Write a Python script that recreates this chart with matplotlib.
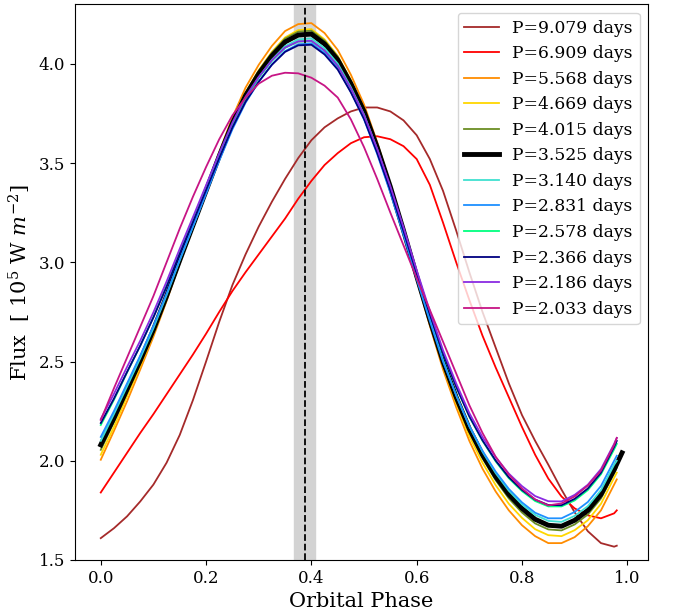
import numpy as np
import matplotlib
matplotlib.use("Agg")
import matplotlib.pyplot as plt

plt.rcParams['font.family'] = 'DejaVu Serif'
plt.rcParams['mathtext.fontset'] = 'dejavuserif'

# orbital phase grid the curves were read at (0 .. 0.975 step 0.025, then 0.98)
phase = [0.000, 0.025, 0.050, 0.075, 0.100, 0.125, 0.150, 0.175, 0.200, 0.225,
         0.250, 0.275, 0.300, 0.325, 0.350, 0.375, 0.400, 0.425, 0.450, 0.475,
         0.500, 0.525, 0.550, 0.575, 0.600, 0.625, 0.650, 0.675, 0.700, 0.725,
         0.750, 0.775, 0.800, 0.825, 0.850, 0.875, 0.900, 0.925, 0.950, 0.975,
         0.980]
# the thick curve runs a bit further
phase_black = phase[:-1] + [0.990]

periods = ["9.079", "6.909", "5.568", "4.669", "4.015", "3.525",
           "3.140", "2.831", "2.578", "2.366", "2.186", "2.033"]
colors = ["brown", "red", "darkorange", "gold", "olivedrab", "black",
          "turquoise", "dodgerblue", "springgreen", "navy", "blueviolet",
          "mediumvioletred"]

flux_9079 = [1.610, 1.660, 1.720, 1.795, 1.880, 1.990, 2.130, 2.305, 2.500, 2.700,
             2.885, 3.040, 3.180, 3.305, 3.420, 3.525, 3.615, 3.680, 3.725, 3.760,
             3.780, 3.780, 3.760, 3.715, 3.640, 3.520, 3.360, 3.160, 2.950, 2.750,
             2.570, 2.390, 2.230, 2.100, 1.980, 1.855, 1.740, 1.645, 1.585, 1.567,
             1.572]
flux_6909 = [1.840, 1.940, 2.040, 2.140, 2.235, 2.335, 2.435, 2.535, 2.640, 2.750,
             2.855, 2.950, 3.040, 3.130, 3.220, 3.320, 3.410, 3.490, 3.550, 3.600,
             3.630, 3.635, 3.620, 3.585, 3.520, 3.390, 3.200, 3.000, 2.810, 2.630,
             2.470, 2.320, 2.170, 2.030, 1.910, 1.820, 1.760, 1.725, 1.710, 1.735,
             1.750]
flux_5568 = [2.005, 2.150, 2.300, 2.460, 2.625, 2.805, 2.995, 3.180, 3.370, 3.555,
             3.730, 3.880, 3.995, 4.090, 4.165, 4.200, 4.205, 4.155, 4.070, 3.945,
             3.795, 3.605, 3.390, 3.160, 2.915, 2.680, 2.460, 2.270, 2.100, 1.960,
             1.845, 1.750, 1.675, 1.620, 1.585, 1.585, 1.615, 1.670, 1.750, 1.880,
             1.906]
flux_4669 = [2.030, 2.170, 2.325, 2.478, 2.638, 2.813, 3.000, 3.180, 3.360, 3.540,
             3.710, 3.855, 3.968, 4.060, 4.133, 4.170, 4.175, 4.123, 4.040, 3.917,
             3.773, 3.587, 3.380, 3.155, 2.917, 2.690, 2.475, 2.290, 2.124, 1.990,
             1.877, 1.783, 1.712, 1.655, 1.625, 1.620, 1.650, 1.700, 1.783, 1.915,
             1.940]
flux_4015 = [2.055, 2.195, 2.345, 2.495, 2.652, 2.826, 3.010, 3.187, 3.365, 3.543,
             3.711, 3.853, 3.964, 4.056, 4.127, 4.162, 4.167, 4.117, 4.036, 3.914,
             3.771, 3.588, 3.385, 3.162, 2.928, 2.705, 2.492, 2.309, 2.146, 2.013,
             1.902, 1.810, 1.739, 1.684, 1.654, 1.649, 1.679, 1.729, 1.810, 1.938,
             1.965]
flux_3525 = [2.080, 2.215, 2.360, 2.505, 2.660, 2.830, 3.010, 3.185, 3.360, 3.535,
             3.700, 3.840, 3.950, 4.040, 4.110, 4.145, 4.150, 4.100, 4.020, 3.900,
             3.760, 3.580, 3.380, 3.160, 2.930, 2.710, 2.500, 2.320, 2.160, 2.030,
             1.920, 1.830, 1.760, 1.705, 1.675, 1.670, 1.700, 1.750, 1.830, 1.955,
             2.040]
flux_3140 = [2.100, 2.235, 2.375, 2.517, 2.668, 2.834, 3.010, 3.180, 3.352, 3.524,
             3.686, 3.824, 3.931, 4.020, 4.089, 4.123, 4.128, 4.079, 4.001, 3.882,
             3.744, 3.568, 3.371, 3.155, 2.930, 2.714, 2.507, 2.330, 2.173, 2.045,
             1.938, 1.849, 1.780, 1.727, 1.697, 1.692, 1.722, 1.771, 1.852, 1.980,
             2.000]
flux_2831 = [2.120, 2.250, 2.390, 2.530, 2.680, 2.842, 3.014, 3.180, 3.345, 3.512,
             3.670, 3.804, 3.909, 3.997, 4.064, 4.098, 4.103, 4.055, 3.978, 3.858,
             3.720, 3.545, 3.350, 3.138, 2.915, 2.705, 2.500, 2.330, 2.175, 2.050,
             1.945, 1.858, 1.790, 1.738, 1.710, 1.710, 1.742, 1.792, 1.873, 2.000,
             2.025]
flux_2578 = [2.180, 2.307, 2.445, 2.580, 2.725, 2.884, 3.050, 3.212, 3.375, 3.540,
             3.695, 3.827, 3.930, 4.015, 4.080, 4.112, 4.115, 4.067, 3.990, 3.874,
             3.740, 3.567, 3.376, 3.168, 2.950, 2.742, 2.543, 2.373, 2.222, 2.100,
             1.997, 1.912, 1.847, 1.797, 1.770, 1.770, 1.800, 1.852, 1.932, 2.058,
             2.085]
flux_2366 = [2.190, 2.313, 2.448, 2.580, 2.722, 2.877, 3.043, 3.202, 3.364, 3.525,
             3.679, 3.809, 3.910, 3.995, 4.060, 4.093, 4.096, 4.047, 3.971, 3.856,
             3.722, 3.551, 3.363, 3.157, 2.942, 2.737, 2.541, 2.373, 2.224, 2.103,
             2.001, 1.917, 1.853, 1.804, 1.777, 1.776, 1.808, 1.860, 1.940, 2.070,
             2.100]
flux_2186 = [2.210, 2.337, 2.473, 2.605, 2.748, 2.903, 3.068, 3.227, 3.388, 3.550,
             3.703, 3.834, 3.934, 4.018, 4.082, 4.113, 4.116, 4.067, 3.990, 3.876,
             3.742, 3.572, 3.383, 3.176, 2.960, 2.754, 2.557, 2.390, 2.240, 2.119,
             2.018, 1.935, 1.872, 1.822, 1.796, 1.795, 1.828, 1.879, 1.958, 2.085,
             2.115]
flux_2033 = [2.205, 2.365, 2.520, 2.675, 2.830, 3.000, 3.170, 3.330, 3.480, 3.620,
             3.740, 3.830, 3.900, 3.940, 3.955, 3.952, 3.930, 3.890, 3.830, 3.720,
             3.580, 3.420, 3.250, 3.085, 2.920, 2.760, 2.600, 2.440, 2.280, 2.140,
             2.020, 1.930, 1.860, 1.805, 1.775, 1.785, 1.820, 1.875, 1.950, 2.080,
             2.115]

fluxes = [flux_9079, flux_6909, flux_5568, flux_4669, flux_4015, flux_3525,
          flux_3140, flux_2831, flux_2578, flux_2366, flux_2186, flux_2033]

# shaded window and its centre
band_lo, band_hi = 0.367, 0.407
band_mid = 0.387

fig = plt.figure(figsize=(6.73, 6.10), dpi=100)
ax = fig.add_axes([0.111, 0.082, 0.852, 0.911])

ax.axvspan(band_lo, band_hi, color='lightgray', zorder=0)

for p, c, f in zip(periods, colors, fluxes):
	if p == "3.525":
		ax.plot(phase_black, f, color=c, lw=3.5, label="P=%s days" % p)
	else:
		ax.plot(phase, f, color=c, lw=1.3, label="P=%s days" % p)

ax.axvline(band_mid, color='black', ls='--', lw=1.3, zorder=5)

ax.set_ylim(1.5, 4.3)
ax.set_xlabel("Orbital Phase", fontsize=15)
ax.set_ylabel(r"Flux  [ $10^5$ W $m^{-2}$]", fontsize=15)
ax.tick_params(labelsize=12)
ax.legend(loc='upper right', fontsize=12.3)

fig.savefig("out.png", dpi=100)
